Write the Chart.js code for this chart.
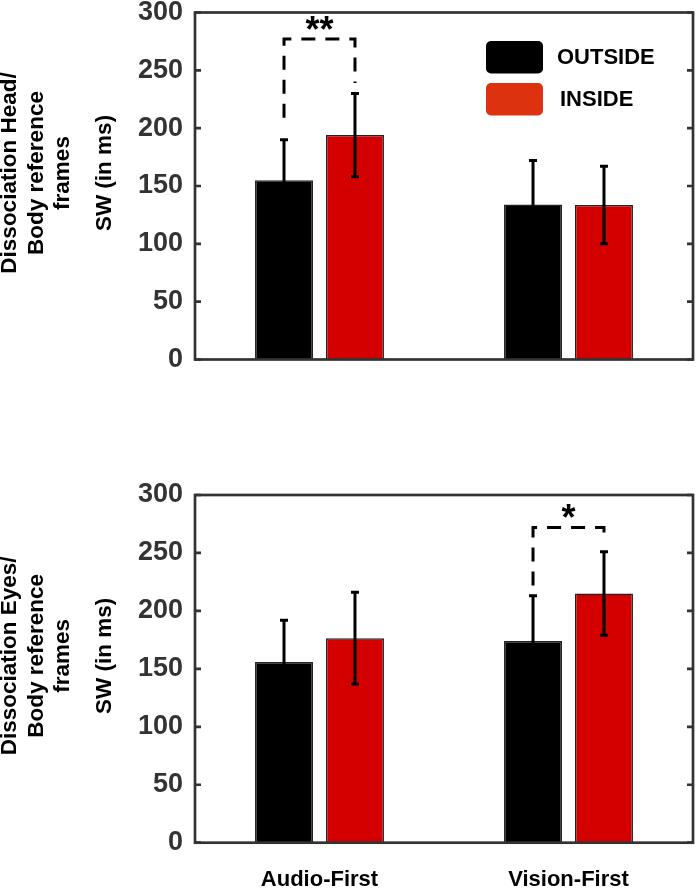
<!DOCTYPE html>
<html>
<head>
<meta charset="utf-8">
<script src="https://cdn.jsdelivr.net/npm/chart.js@4.4.1/dist/chart.umd.min.js"></script>
<style>
  html,body{margin:0;padding:0;background:#fff;}
  body{width:697px;height:888px;position:relative;overflow:hidden;}
  .panel{position:absolute;left:0;width:697px;}
  #top{top:0;height:380px;}
  #bottom{top:480px;height:408px;}
</style>
</head>
<body>
<div class="panel" id="top"><canvas id="chartTop"></canvas></div>
<div class="panel" id="bottom"><canvas id="chartBottom"></canvas></div>
<script>
//-----------------Data
const categories = ['Audio-First', 'Vision-First']
const seriesNames = ['OUTSIDE', 'INSIDE']
const barColors = ['#000000', '#d40000']
const legendColors = ['#000000', '#dc3210']
const yMin = 0
const yMax = 300
const yStep = 50

// Head / Body panel
const headOutside = [155, 134]
const headOutsideErr = [35, 38]
const headInside = [194, 133.5]
const headInsideErr = [36, 33.5]
// bracket: category, bracket top, left end, right end, stars
const headSig = [0, 277, 209, 239, '**']

// Eyes / Body panel
const eyesOutside = [156, 174]
const eyesOutsideErr = [36, 39]
const eyesInside = [176.5, 215]
const eyesInsideErr = [39.5, 36]
const eyesSig = [1, 272, 222, 261, '*']

const yTitle = 'SW (in ms)'
const headLabel = ['Dissociation Head/', 'Body reference', 'frames']
const eyesLabel = ['Dissociation Eyes/', 'Body reference', 'frames']

Chart.defaults.font.family = '"Liberation Sans", Arial, Helvetica, sans-serif'

//-----------------Extra drawing (error bars, bracket, frame, legend, side labels)
const panelDecor = {
  id: 'panelDecor',
  afterDatasetsDraw(chart, args, opts) {
    const ctx = chart.ctx
    const y = chart.scales.y
    ctx.save()
    // error bars
    ctx.strokeStyle = '#000'
    ctx.lineWidth = 3
    chart.data.datasets.forEach((ds, di) => {
      chart.getDatasetMeta(di).data.forEach((bar, i) => {
        const err = opts.errors[di][i]
        const lo = y.getPixelForValue(ds.data[i] - err)
        const hi = y.getPixelForValue(ds.data[i] + err)
        ctx.beginPath()
        ctx.moveTo(bar.x, lo); ctx.lineTo(bar.x, hi)
        ctx.moveTo(bar.x - 4, hi); ctx.lineTo(bar.x + 4, hi)
        ctx.moveTo(bar.x - 4, lo); ctx.lineTo(bar.x + 4, lo)
        ctx.stroke()
      })
    })
    // significance bracket
    const sig = opts.sig
    const x0 = chart.getDatasetMeta(0).data[sig[0]].x
    const x1 = chart.getDatasetMeta(1).data[sig[0]].x
    const yt = y.getPixelForValue(sig[1])
    ctx.setLineDash([14, 10])
    ctx.beginPath()
    ctx.moveTo(x0, y.getPixelForValue(sig[2]))
    ctx.lineTo(x0, yt)
    ctx.lineTo(x1, yt)
    ctx.lineTo(x1, y.getPixelForValue(sig[3]))
    ctx.stroke()
    ctx.setLineDash([])
    ctx.fillStyle = '#000'
    ctx.font = 'bold 36px "Liberation Sans", Arial'
    ctx.textAlign = 'center'
    ctx.textBaseline = 'alphabetic'
    ctx.fillText(sig[4], (x0 + x1) / 2, yt + 3)
    ctx.restore()
  },
  afterDraw(chart, args, opts) {
    const ctx = chart.ctx
    const a = chart.chartArea
    const y = chart.scales.y
    ctx.save()
    // frame + inward ticks
    ctx.strokeStyle = '#333'
    ctx.lineWidth = 2.7
    ctx.strokeRect(a.left, a.top, a.right - a.left, a.bottom - a.top)
    ctx.beginPath()
    y.ticks.forEach(t => {
      const py = y.getPixelForValue(t.value)
      ctx.moveTo(a.left, py); ctx.lineTo(a.left + 6, py)
      ctx.moveTo(a.right - 6, py); ctx.lineTo(a.right, py)
    })
    ctx.stroke()
    // legend
    if (opts.legend) {
      ctx.font = 'bold 22px "Liberation Sans", Arial'
      ctx.textAlign = 'left'
      ctx.textBaseline = 'middle'
      seriesNames.forEach((name, i) => {
        const top = a.top + 28.5 + i * 42
        ctx.fillStyle = legendColors[i]
        ctx.beginPath()
        ctx.roundRect(a.left + 291, top, 57, 32.5, 5)
        ctx.fill()
        ctx.fillStyle = '#000'
        ctx.fillText(name, a.left + 362 + (i ? 3 : 0), top + 16.5)
      })
    }
    // side labels
    const cy = (a.top + a.bottom) / 2 - 13
    ctx.fillStyle = '#000'
    ctx.textAlign = 'center'
    ctx.textBaseline = 'middle'
    ctx.font = 'bold 22.5px "Liberation Sans", Arial'
    const xs = [10, 36.5, 63]
    opts.side.forEach((line, i) => {
      ctx.save()
      ctx.translate(xs[i], cy)
      ctx.rotate(-Math.PI / 2)
      ctx.fillText(line, 0, 0)
      ctx.restore()
    })
    ctx.save()
    ctx.translate(105, cy)
    ctx.rotate(-Math.PI / 2)
    ctx.fillText(yTitle, 0, 0)
    ctx.restore()
    ctx.restore()
  }
}

function makePanel(id, outside, outsideErr, inside, insideErr, sig, side, showLegend, showX, padTop, xHeight) {
  const ctx = document.getElementById(id).getContext('2d')
  return new Chart(ctx, {
    type: 'bar',
    data: {
      labels: categories,
      datasets: [{
        label: seriesNames[0],
        data: outside,
        backgroundColor: barColors[0],
        borderColor: '#222',
        borderWidth: 1.5,
        categoryPercentage: 0.57,
        barPercentage: 0.817
      }, {
        label: seriesNames[1],
        data: inside,
        backgroundColor: barColors[1],
        borderColor: '#222',
        borderWidth: 1.5,
        categoryPercentage: 0.57,
        barPercentage: 0.817
      }]
    },
    options: {
      responsive: true,
      maintainAspectRatio: false,
      animation: false,
      layout: { padding: { top: padTop, right: 4, left: 0, bottom: 0 } },
      plugins: {
        legend: { display: false },
        tooltip: { enabled: false },
        panelDecor: {
          errors: [outsideErr, insideErr],
          sig: sig,
          side: side,
          legend: showLegend
        }
      },
      scales: {
        x: {
          grid: { display: false, drawTicks: false },
          border: { display: false },
          ticks: {
            display: showX,
            color: '#000',
            padding: 24,
            font: { size: 22, weight: 'bold' }
          },
          afterFit: s => { s.height = xHeight }
        },
        y: {
          min: yMin,
          max: yMax,
          // invisible tick marks only keep the labels 12px off the axis
          grid: { display: true, drawOnChartArea: false, drawTicks: true, tickLength: 12, tickColor: 'rgba(0,0,0,0)', color: 'rgba(0,0,0,0)' },
          border: { display: false },
          ticks: {
            stepSize: yStep,
            color: '#333',
            padding: 0,
            font: { size: 27, weight: 'bold', lineHeight: 0.9 }
          },
          afterFit: s => { s.width = 195 }
        }
      }
    },
    plugins: [panelDecor]
  })
}

makePanel('chartTop', headOutside, headOutsideErr, headInside, headInsideErr, headSig, headLabel, true, false, 12.5, 20.5)
makePanel('chartBottom', eyesOutside, eyesOutsideErr, eyesInside, eyesInsideErr, eyesSig, eyesLabel, false, true, 15, 45.3)
</script>
</body>
</html>
